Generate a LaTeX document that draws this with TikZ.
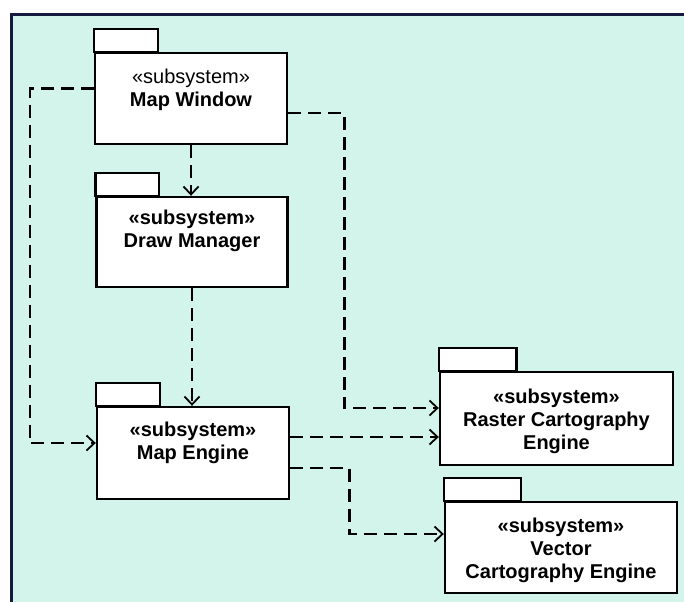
\documentclass[tikz,border=0pt]{standalone}
\usepackage{fontspec}
\setmainfont{Liberation Sans}
\usetikzlibrary{positioning,calc,arrows.meta}
\definecolor{mint}{RGB}{210,244,235}
\definecolor{navy}{RGB}{22,26,62}
\tikzset{
  pkg/.style={draw=black,line width=2.4pt,fill=white,inner sep=0pt},
  pkgtext/.style={align=center,inner sep=0pt,font=\fontsize{20}{23}\selectfont\bfseries},
  dep/.style={line width=2.6pt,dash pattern=on 13pt off 7pt,-{Straight Barb[length=8pt,width=15pt,line width=1.8pt]}},
  frameline/.style={line width=3pt,draw=navy}
}
\newcommand{\pkgtab}[1]{\draw[pkg] (#1.north west) rectangle ([yshift=23pt]$(#1.north west)!.33!(#1.north east)$);}

\begin{document}
\begin{tikzpicture}[x=1pt,y=-1pt]
  \useasboundingbox (0,0) rectangle (684,602);
  \fill[mint] (11,15) rectangle (684,602);
  \draw[frameline] (684,15) -- (11,15) -- (11,602);
  \node[pkg,minimum width=192pt,minimum height=91pt] (mw) at (191,98.5) {}; \pkgtab{mw}
  \node[pkg,minimum width=191pt,minimum height=90pt] (dm) at (192,242) {}; \pkgtab{dm}
  \node[pkg,minimum width=192pt,minimum height=92pt] (me) at (193,453) {}; \pkgtab{me}
  \node[pkg,minimum width=233pt,minimum height=93pt] (ras) at (556.5,418.5) {}; \pkgtab{ras}
  \node[pkg,minimum width=232pt,minimum height=91pt] (vec) at (561,547.5) {}; \pkgtab{vec}
  \node[pkgtext,below=17pt of mw.north] (mwt) {{\mdseries «subsystem»}\\Map Window};
  \node[pkgtext,below=14pt of dm.north] (dmt) {«subsystem»\\Draw Manager};
  \node[pkgtext,below=16pt of me.north] (met) {«subsystem»\\Map Engine};
  \node[pkgtext,below=18pt of ras.north] (rast) {«subsystem»\\Raster Cartography\\Engine};
  \node[pkgtext,below=17pt of vec.north] (vect) {«subsystem»\\Vector\\Cartography Engine};
  \draw[dep] (mw.south) -- (mw.south |- dm.north);
  \draw[dep] (dm.south) -- (dm.south |- me.north);
  \draw[dep] ([yshift=10pt]mw.west) -- ++(-64,0) |- ([yshift=10pt]me.west);
  \draw[dep] ([yshift=-14.5pt]mw.east) -- ++(56,0) |- ([yshift=10.5pt]ras.west);
  \draw[dep] ([yshift=16pt]me.east) coordinate (me1) -- (me1 -| ras.west);
  \draw[dep] ([yshift=-15pt]me.east) -- ++(59,0) |- ([yshift=13.5pt]vec.west);
\end{tikzpicture}
\end{document}
